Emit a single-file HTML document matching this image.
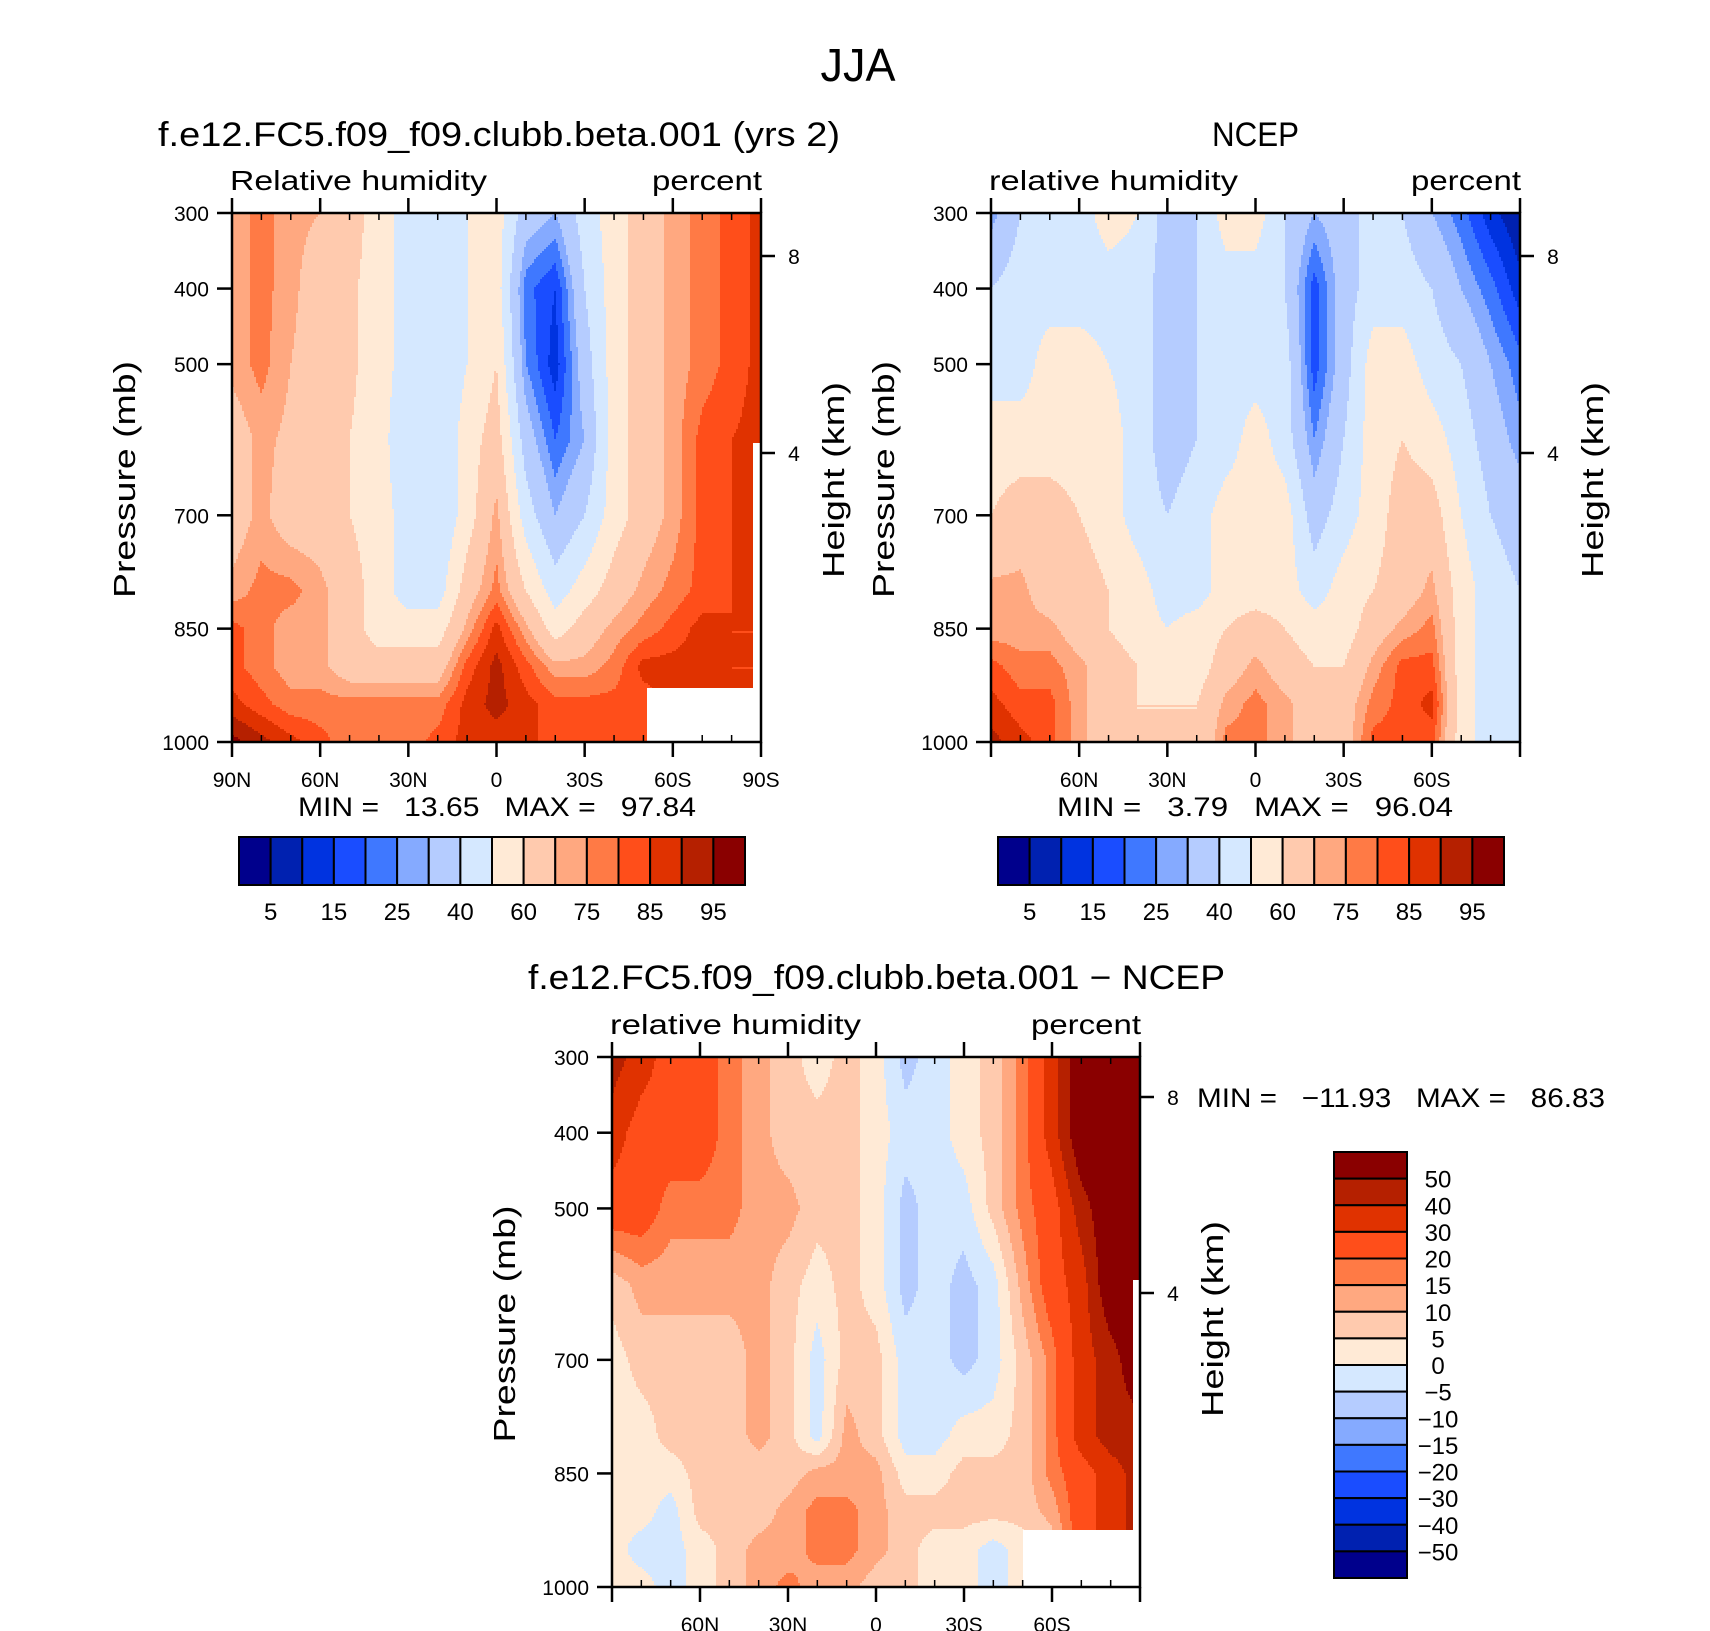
<!DOCTYPE html>
<html><head><meta charset="utf-8"><style>
html,body{margin:0;padding:0;background:#fff;}
svg{display:block;font-family:"Liberation Sans",Arial,sans-serif;}
text{white-space:pre;}
</style></head><body>
<svg id="fig" width="1710" height="1631" viewBox="0 0 1710 1631" xmlns="http://www.w3.org/2000/svg">
<rect x="0" y="0" width="1710" height="1631" fill="#fff"/>
<text x="858" y="81" font-size="46" text-anchor="middle" textLength="75" lengthAdjust="spacingAndGlyphs">JJA</text>
<text x="158" y="146" font-size="34" textLength="682" lengthAdjust="spacingAndGlyphs">f.e12.FC5.f09_f09.clubb.beta.001 (yrs 2)</text>
<text x="1212" y="146" font-size="34" textLength="87" lengthAdjust="spacingAndGlyphs">NCEP</text>
<text x="528" y="989" font-size="34" textLength="697" lengthAdjust="spacingAndGlyphs">f.e12.FC5.f09_f09.clubb.beta.001 − NCEP</text>
<g id="layer"></g>
</svg>
<script>
// ---- data ----
const lats = [90,80,70,60,50,40,30,20,10,0,-10,-20,-30,-40,-50,-60,-70,-80,-90];
const pres = [300,400,500,600,700,800,850,900,950,1000];
const rhModel = [
[72,77,72,70,65,55,45,45,50,55,35,30,45,55,65,72,77,82,87],
[72,77,72,65,62,55,45,45,50,55,22,15,40,55,65,72,77,82,87],
[72,77,70,65,62,55,45,40,50,60,25,12,35,55,65,72,77,82,87],
[65,72,68,65,60,55,40,40,55,65,35,20,30,55,65,72,82,85,87],
[65,72,65,65,60,55,45,40,55,72,45,30,40,55,65,72,82,85,87],
[72,77,77,72,65,55,45,45,65,77,60,45,55,65,72,77,82,85,87],
[82,77,72,72,65,55,55,55,72,87,72,55,65,72,77,82,87,85,85],
[82,77,72,72,65,65,65,65,82,92,82,72,72,77,87,87,87,85,85],
[87,82,77,77,77,77,77,77,87,92,87,82,82,82,82,87,87,85,85],
[97,92,87,82,77,77,77,82,87,87,87,82,82,82,82,82,85,85,85]];
const rhNcep = [
[27,40,45,45,55,50,35,40,55,55,40,30,35,45,40,30,22,12,5],
[40,45,45,45,45,45,35,40,45,45,40,17,35,45,45,40,30,22,12],
[45,45,55,55,50,45,35,40,45,45,45,17,35,55,55,45,40,30,22],
[55,55,55,55,55,45,35,40,45,55,45,25,40,55,60,55,45,35,27],
[60,65,65,60,55,45,40,45,55,55,55,35,45,55,65,65,50,40,35],
[72,72,65,65,60,55,45,45,55,55,55,45,55,60,65,72,55,45,40],
[72,72,72,65,60,55,50,55,60,65,60,55,55,65,72,77,55,45,40],
[82,77,77,72,65,60,55,55,65,72,65,60,60,72,82,82,55,45,40],
[87,82,82,72,65,60,60,60,72,77,72,65,65,77,82,87,55,45,40],
[92,87,82,72,65,60,60,60,77,77,72,65,65,82,82,82,55,45,40]];
const rhDiff = [
[45,35,25,25,17,12,7,2.5,7,2.5,-7,-2.5,2.5,7,17,35,60,60,60],
[35,25,25,25,17,12,7,7,7,2.5,-2.5,-2.5,2.5,7,17,35,60,60,60],
[25,25,17,17,17,12,12,7,7,2.5,-7,-2.5,-2.5,7,17,25,45,60,60],
[7,12,12,12,12,12,7,2.5,7,2.5,-7,-2.5,-7,-2.5,12,25,35,60,60],
[2.5,7,7,7,7,12,7,-2.5,7,7,-2.5,-2.5,-7,-2.5,7,17,35,45,60],
[2.5,2.5,7,7,7,12,7,-2.5,12,7,-2.5,-2.5,2.5,2.5,7,17,35,45,45],
[2.5,2.5,2.5,7,7,7,7,12,12,12,2.5,2.5,7,7,7,17,25,35,45],
[2.5,2.5,-2.5,7,7,7,12,17,17,12,7,7,7,7,7,12,25,35,45],
[2.5,-2.5,-2.5,2.5,7,12,12,17,17,12,7,2.5,2.5,-2.5,2.5,7,25,35,45],
[2.5,2.5,-2.5,2.5,7,12,17,12,12,7,7,2.5,2.5,-2.5,2.5,7,25,35,45]];
const levelsAbs = [5,10,15,20,25,30,40,50,60,70,75,80,85,90,95];
const levelsDiff = [-50,-40,-30,-20,-15,-10,-5,0,5,10,15,20,30,40,50];
const absLabels = ["5","15","25","40","60","75","85","95"];
const diffLabels = ["50","40","30","20","15","10","5","0","−5","−10","−15","−20","−30","−40","−50"];
const pTicks = [300,400,500,700,850,1000];
const latTicks = [90,60,30,0,-30,-60,-90];
const latLabels = ["90N","60N","30N","0","30S","60S","90S"];
const hTicks = [8,4];
const statsModel = ["13.65","97.84"];
const statsNcep = ["3.79","96.04"];
const statsDiff = ["−11.93","86.83"];
const palette = ["#00008c","#0021b0","#0033e0","#1a4dff","#3f78ff","#85aaff","#b5ccff","#d5e8ff","#ffead6","#ffcaae","#ffa880","#ff7a45","#ff4e1a","#e03200","#b52000","#8a0000"];

const NS="http://www.w3.org/2000/svg";
const layer=document.getElementById('layer');
function mk(tag,attrs,parent){const e=document.createElementNS(NS,tag);for(const k in attrs)e.setAttribute(k,attrs[k]);(parent||layer).appendChild(e);return e;}
function txt(s,attrs,parent){const e=mk('text',attrs,parent);e.textContent=s;return e;}

function sample(grid,lat,p){
  let i=0;while(i<lats.length-2&&lat<lats[i+1])i++;
  let j=0;while(j<pres.length-2&&p>pres[j+1])j++;
  const tx=Math.min(1,Math.max(0,(lats[i]-lat)/(lats[i]-lats[i+1])));
  const ty=Math.min(1,Math.max(0,(p-pres[j])/(pres[j+1]-pres[j])));
  const a=grid[j][i],b=grid[j][i+1],c=grid[j+1][i],d=grid[j+1][i+1];
  return (a*(1-tx)+b*tx)*(1-ty)+(c*(1-tx)+d*tx)*ty;
}
function band(v,levels){let k=0;while(k<levels.length&&v>=levels[k])k++;return k;}

function panel(P){
  const g=mk('g',{});
  
  
  const xOf=lat=>P.x0+(90-lat)/180*P.w;
  const yOf=p=>P.y0+(p-300)/700*P.h;
  const cg=mk('g',{},g);
  
  
  const step=2;
  const nx=Math.ceil(P.w/step);
  for(let y=0;y<P.h;y+=step){
    const p=300+Math.min(P.h,y+step/2)/P.h*700;
    let runStart=0,runBand=-1;
    for(let ix=0;ix<=nx;ix++){
      const x=ix*step;
      let b=-2;
      if(ix<nx){const lat=90-Math.min(P.w,x+step/2)/P.w*180;b=band(sample(P.grid,lat,p),P.levels);}
      if(b!==runBand){
        if(runBand>=0){
          const wd=Math.min(x,P.w)-runStart;
          const r=mk('rect',{x:P.x0+runStart,y:P.y0+y,width:wd+0.6,height:Math.min(step,P.h-y)+0.6,fill:palette[runBand]},cg);
          
          
        }
        runStart=x;runBand=b;
      }
    }
  }
  (P.masks||[]).forEach(m=>{
    const r=mk('rect',{x:m[0],y:m[1],width:m[2],height:m[3],fill:'#fff'},g);
    
    
  });
  const fr=mk('rect',{x:P.x0,y:P.y0,width:P.w,height:P.h,fill:'none',stroke:'#000','stroke-width':2.5},g);
  
  
  for(let lat=90;lat>=-90;lat-=10){
    const x=xOf(lat);const major=lat%30===0;
    if(major){
      mk('line',{x1:x,x2:x,y1:P.y0+P.h,y2:P.y0+P.h+15,stroke:'#000','stroke-width':2.5},g);
      mk('line',{x1:x,x2:x,y1:P.y0,y2:P.y0-15,stroke:'#000','stroke-width':2.5},g);
    } else {
      mk('line',{x1:x,x2:x,y1:P.y0+P.h,y2:P.y0+P.h-7,stroke:'#000','stroke-width':1.5},g);
      mk('line',{x1:x,x2:x,y1:P.y0,y2:P.y0+7,stroke:'#000','stroke-width':1.5},g);
    }
  }
  latTicks.forEach((lat,k)=>{
    if(!P.edgeLabels&&(lat===90||lat===-90))return;
    const t=txt(latLabels[k],{x:xOf(lat),y:P.y0+P.h+45,'font-size':21,'text-anchor':'middle'},g);
    
    
  });
  pTicks.forEach(p=>{
    mk('line',{x1:P.x0,x2:P.x0-15,y1:yOf(p),y2:yOf(p),stroke:'#000','stroke-width':2.5},g);
    const t=txt(String(p),{x:P.x0-23,y:yOf(p)+8,'font-size':21,'text-anchor':'end'},g);
    
    
  });
  hTicks.forEach((h,k)=>{
    const y=P.y0+P.hPos[k];
    mk('line',{x1:P.x0+P.w,x2:P.x0+P.w+14,y1:y,y2:y,stroke:'#000','stroke-width':2.5},g);
    const t=txt(String(h),{x:P.x0+P.w+33,y:y+8,'font-size':21,'text-anchor':'middle'},g);
    
    
  });
  const l1=txt(P.leftLabel,{x:P.x0-2,y:P.y0-23,'font-size':28,textLength:P.leftLen,lengthAdjust:'spacingAndGlyphs'},g);
  
  
  const l2=txt('percent',{x:P.x0+P.w+1,y:P.y0-23,'font-size':28,'text-anchor':'end',textLength:110,lengthAdjust:'spacingAndGlyphs'},g);
  
  
  const cy=P.y0+P.h/2+2;
  const yl=txt('Pressure (mb)',{x:0,y:0,'font-size':31,'text-anchor':'middle',transform:`translate(${P.x0-97},${cy}) rotate(-90)`,textLength:237,lengthAdjust:'spacingAndGlyphs'},g);
  
  
  const hl=txt('Height (km)',{x:0,y:0,'font-size':31,'text-anchor':'middle',transform:`translate(${P.x0+P.w+83},${P.y0+P.hLabelC}) rotate(-90)`,textLength:196,lengthAdjust:'spacingAndGlyphs'},g);
  
  
}

function stats(vals,x,y,len){
  const t=txt(`MIN =   ${vals[0]}   MAX =   ${vals[1]}`,{x:x,y:y,'font-size':27,textLength:len,lengthAdjust:'spacingAndGlyphs'});
  
  
}

function hbar(x0,name){
  const g=mk('g',{});
  
  
  const w=506/16;
  palette.forEach((c,k)=>{
    const r=mk('rect',{x:x0+k*w,y:837,width:w,height:48,fill:c,stroke:'#000','stroke-width':2},g);
    
    
  });
  absLabels.forEach((s,k)=>{
    const t=txt(s,{x:x0+(2*k+1)*w,y:920,'font-size':24,'text-anchor':'middle'},g);
    
    
  });
}
function vbar(){
  const g=mk('g',{});
  
  
  const y0=1152,h=426/16;
  palette.slice().reverse().forEach((c,k)=>{
    const r=mk('rect',{x:1334,y:y0+k*h,width:73,height:h,fill:c,stroke:'#000','stroke-width':2},g);
    
    
  });
  diffLabels.forEach((s,k)=>{
    const t=txt(s,{x:1438,y:y0+(k+1)*h+9,'font-size':24,'text-anchor':'middle'},g);
    
    
  });
}

panel({name:'model-panel',grid:rhModel,levels:levelsAbs,x0:232,y0:213,w:529,h:529,edgeLabels:true,
  hPos:[43,240],hLabelC:267,leftLabel:'Relative humidity',leftLen:257,
  masks:[[647,688,107,54],[753,443,8,299]]});
panel({name:'ncep-panel',grid:rhNcep,levels:levelsAbs,x0:991,y0:213,w:529,h:529,edgeLabels:false,
  hPos:[43,240],hLabelC:267,leftLabel:'relative humidity',leftLen:249,masks:[]});
panel({name:'diff-panel',grid:rhDiff,levels:levelsDiff,x0:612,y0:1057,w:528,h:530,edgeLabels:false,
  hPos:[40,236],hLabelC:262,leftLabel:'relative humidity',leftLen:251,
  masks:[[1023,1530,118,57],[1133,1280,7,307]]});
stats(statsModel,298,816,398);
stats(statsNcep,1057,816,396);
stats(statsDiff,1197,1107,408);
hbar(239,'model-colorbar');
hbar(998,'ncep-colorbar');
vbar();
</script>
</body></html>
